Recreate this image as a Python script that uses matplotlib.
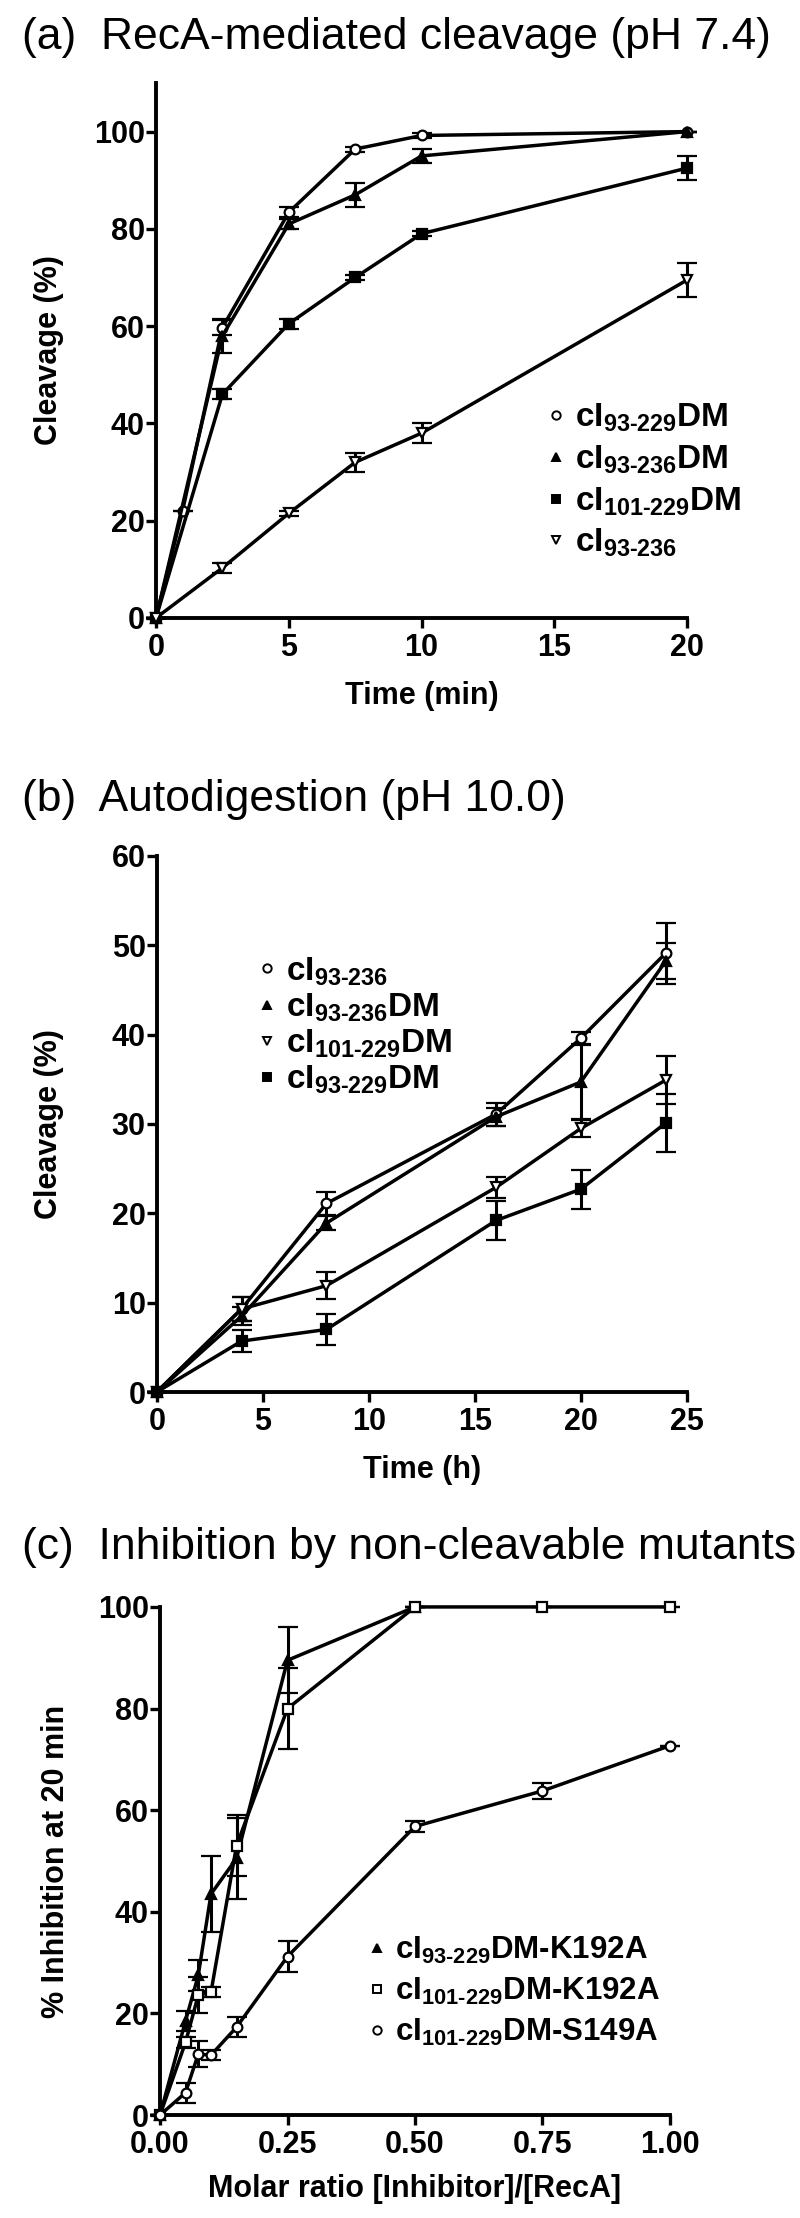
import matplotlib
matplotlib.use("Agg")
import matplotlib.pyplot as plt
from matplotlib.lines import Line2D

plt.rcParams['font.family'] = ['Liberation Sans', 'DejaVu Sans']
plt.rcParams['mathtext.fontset'] = 'custom'
plt.rcParams['mathtext.rm'] = 'Liberation Sans:bold'
plt.rcParams['mathtext.bf'] = 'Liberation Sans:bold'
plt.rcParams['mathtext.it'] = 'Liberation Sans:bold'
plt.rcParams['mathtext.default'] = 'rm'

# ---- datos panel (a): corte mediado por RecA ----
t_a = [0, 2.5, 5, 7.5, 10, 20]
t_a_c = [0, 1, 2.5, 5, 7.5, 10, 20]
a_229dm = [0, 22, 59.7, 83.4, 96.4, 99.2, 100]
a_229dm_err = [0, 0, 1.5, 1, 0.5, 0.5, 0]
a_236dm = [0, 58, 81, 87, 95, 100]
a_236dm_err = [0, 3.5, 1, 2.5, 1.5, 0]
a_101dm = [0, 46, 60.5, 70, 79, 92.5]
a_101dm_err = [0, 1, 1, 0.5, 0.5, 2.5]
a_236 = [0, 10.3, 21.5, 32, 38, 69.5]
a_236_err = [0, 1, 0.5, 2, 2, 3.5]

# ---- datos panel (b): autodigestion ----
t_b = [0, 4, 8, 16, 20, 24]
b_236 = [0, 9.3, 21.1, 31.1, 39.6, 49.1]
b_236_err = [0, 1.3, 1.3, 1.3, 0.7, 3.4]
b_236dm = [0, 8.5, 18.9, 30.8, 34.7, 48.2]
b_236dm_err = [0, 1.0, 0.8, 1.0, 4.1, 2.0]
b_101dm = [0, 9.3, 11.9, 22.9, 29.5, 34.9]
b_101dm_err = [0, 1.3, 1.5, 1.2, 1.0, 2.7]
b_229dm = [0, 5.7, 7.0, 19.2, 22.7, 30.1]
b_229dm_err = [0, 1.2, 1.7, 2.2, 2.2, 3.2]

# ---- datos panel (c): inhibicion ----
r_tri = [0, 0.05, 0.075, 0.1, 0.15, 0.25, 0.5]
c_tri = [0, 18.5, 27.5, 43.5, 50.5, 89.5, 100]
c_tri_err = [0, 2, 3, 7.5, 8, 6.5, 0]
r_all = [0, 0.05, 0.075, 0.1, 0.15, 0.25, 0.5, 0.75, 1.0]
c_sq = [0, 14.3, 23.6, 24.2, 53, 80, 100, 100, 100]
c_sq_err = [0, 1, 3.5, 1, 6, 8, 0, 0, 0]
c_circ = [0, 4.4, 12, 11.8, 17.3, 31.2, 56.8, 63.8, 72.7]
c_circ_err = [0, 2, 2.5, 1, 2, 3, 1, 1.5, 0]

fig = plt.figure(figsize=(8, 22.18), dpi=100)

TICK_FS = 22
LABEL_FS = 22
TITLE_FS = 32
LW = 2.5


def estilo(ax):
    for s in ['top', 'right']:
        ax.spines[s].set_visible(False)
    for s in ['left', 'bottom']:
        ax.spines[s].set_linewidth(2.8)
    ax.tick_params(direction='out', length=7, width=2.4, labelsize=TICK_FS)
    ax.tick_params(axis='y', pad=1)
    ax.tick_params(axis='x', pad=4)
    for lab in ax.get_xticklabels() + ax.get_yticklabels():
        lab.set_fontweight('bold')


def serie(ax, x, y, err, marker, fill, ms=7):
    ax.errorbar(x, y, yerr=err, color='black', lw=LW, marker=marker, ms=ms,
                mfc=fill, mec='black', mew=1.6, capsize=7, capthick=2.2,
                elinewidth=2.2, clip_on=False, zorder=3)


def leyenda(ax, items, x, y, spacing, fs):
    handles = [Line2D([], [], linestyle='none', marker=m, color='black', mfc=f,
                      mec='black', mew=1.4, ms=6) for m, f, _ in items]
    labels = [l for _, _, l in items]
    leg = ax.legend(handles, labels, loc='upper left', bbox_to_anchor=(x, y),
                    frameon=False, borderaxespad=0, borderpad=0, handlelength=0.55,
                    handletextpad=0.3, labelspacing=spacing,
                    prop={'weight': 'bold', 'size': fs})
    return leg


# ================= panel (a) =================
ax1 = fig.add_axes([0.195, 0.7214, 0.664, 0.2412])
serie(ax1, t_a_c, a_229dm, a_229dm_err, 'o', 'white')
serie(ax1, t_a, a_236dm, a_236dm_err, '^', 'black')
serie(ax1, t_a, a_101dm, a_101dm_err, 's', 'black')
serie(ax1, t_a, a_236, a_236_err, 'v', 'white')
ax1.set_xlim(0, 20)
ax1.set_ylim(0, 110)
ax1.set_xticks([0, 5, 10, 15, 20])
ax1.set_yticks([0, 20, 40, 60, 80, 100])
estilo(ax1)
ax1.set_xlabel('Time (min)', fontsize=LABEL_FS, fontweight='bold')
ax1.set_ylabel('Cleavage (%)', fontsize=LABEL_FS, fontweight='bold')
ax1.xaxis.set_label_coords(0.5, -0.118)
ax1.yaxis.set_label_coords(-0.173, 0.5)
leyenda(ax1, [('o', 'white', r'cI$_{93\text{-}229}$DM'),
              ('^', 'black', r'cI$_{93\text{-}236}$DM'),
              ('s', 'black', r'cI$_{101\text{-}229}$DM'),
              ('v', 'white', r'cI$_{93\text{-}236}$')],
        0.735, 0.404, 0.28, 24)
fig.text(22 / 800, 1 - 38 / 2218, '(a)  RecA-mediated cleavage (pH 7.4)',
         fontsize=TITLE_FS, ha='left', va='center')

# ================= panel (b) =================
ax2 = fig.add_axes([0.196, 0.3724, 0.6625, 0.2417])
serie(ax2, t_b, b_236, b_236_err, 'o', 'white')
serie(ax2, t_b, b_236dm, b_236dm_err, '^', 'black')
serie(ax2, t_b, b_101dm, b_101dm_err, 'v', 'white')
serie(ax2, t_b, b_229dm, b_229dm_err, 's', 'black')
ax2.set_xlim(0, 25)
ax2.set_ylim(0, 60)
ax2.set_xticks([0, 5, 10, 15, 20, 25])
ax2.set_yticks([0, 10, 20, 30, 40, 50, 60])
estilo(ax2)
ax2.set_xlabel('Time (h)', fontsize=LABEL_FS, fontweight='bold')
ax2.set_ylabel('Cleavage (%)', fontsize=LABEL_FS, fontweight='bold')
ax2.xaxis.set_label_coords(0.5, -0.118)
ax2.yaxis.set_label_coords(-0.175, 0.5)
leyenda(ax2, [('o', 'white', r'cI$_{93\text{-}236}$'),
              ('^', 'black', r'cI$_{93\text{-}236}$DM'),
              ('v', 'white', r'cI$_{101\text{-}229}$DM'),
              ('s', 'black', r'cI$_{93\text{-}229}$DM')],
        0.19, 0.815, 0.11, 24)
fig.text(22 / 800, 1 - 800 / 2218, '(b)  Autodigestion (pH 10.0)',
         fontsize=TITLE_FS, ha='left', va='center')

# ================= panel (c) =================
ax3 = fig.add_axes([0.2, 0.0464, 0.6375, 0.2291])
serie(ax3, r_tri, c_tri, c_tri_err, '^', 'black')
serie(ax3, r_all, c_sq, c_sq_err, 's', 'white')
serie(ax3, r_all, c_circ, c_circ_err, 'o', 'white')
ax3.set_xlim(0, 1.0)
ax3.set_ylim(0, 100)
ax3.set_xticks([0, 0.25, 0.5, 0.75, 1.0])
ax3.set_xticklabels(['0.00', '0.25', '0.50', '0.75', '1.00'])
ax3.set_yticks([0, 20, 40, 60, 80, 100])
estilo(ax3)
ax3.set_xlabel('Molar ratio [Inhibitor]/[RecA]', fontsize=LABEL_FS, fontweight='bold')
ax3.set_ylabel('% Inhibition at 20 min', fontsize=LABEL_FS, fontweight='bold')
ax3.xaxis.set_label_coords(0.5, -0.115)
ax3.yaxis.set_label_coords(-0.175, 0.5)
leyenda(ax3, [('^', 'black', r'cI$_{93\text{-}229}$DM-K192A'),
              ('s', 'white', r'cI$_{101\text{-}229}$DM-K192A'),
              ('o', 'white', r'cI$_{101\text{-}229}$DM-S149A')],
        0.408, 0.355, 0.32, 22.5)
fig.text(22 / 800, 1 - 1548 / 2218, '(c)  Inhibition by non-cleavable mutants',
         fontsize=TITLE_FS, ha='left', va='center')

fig.savefig('out.png', dpi=100, facecolor='white')
